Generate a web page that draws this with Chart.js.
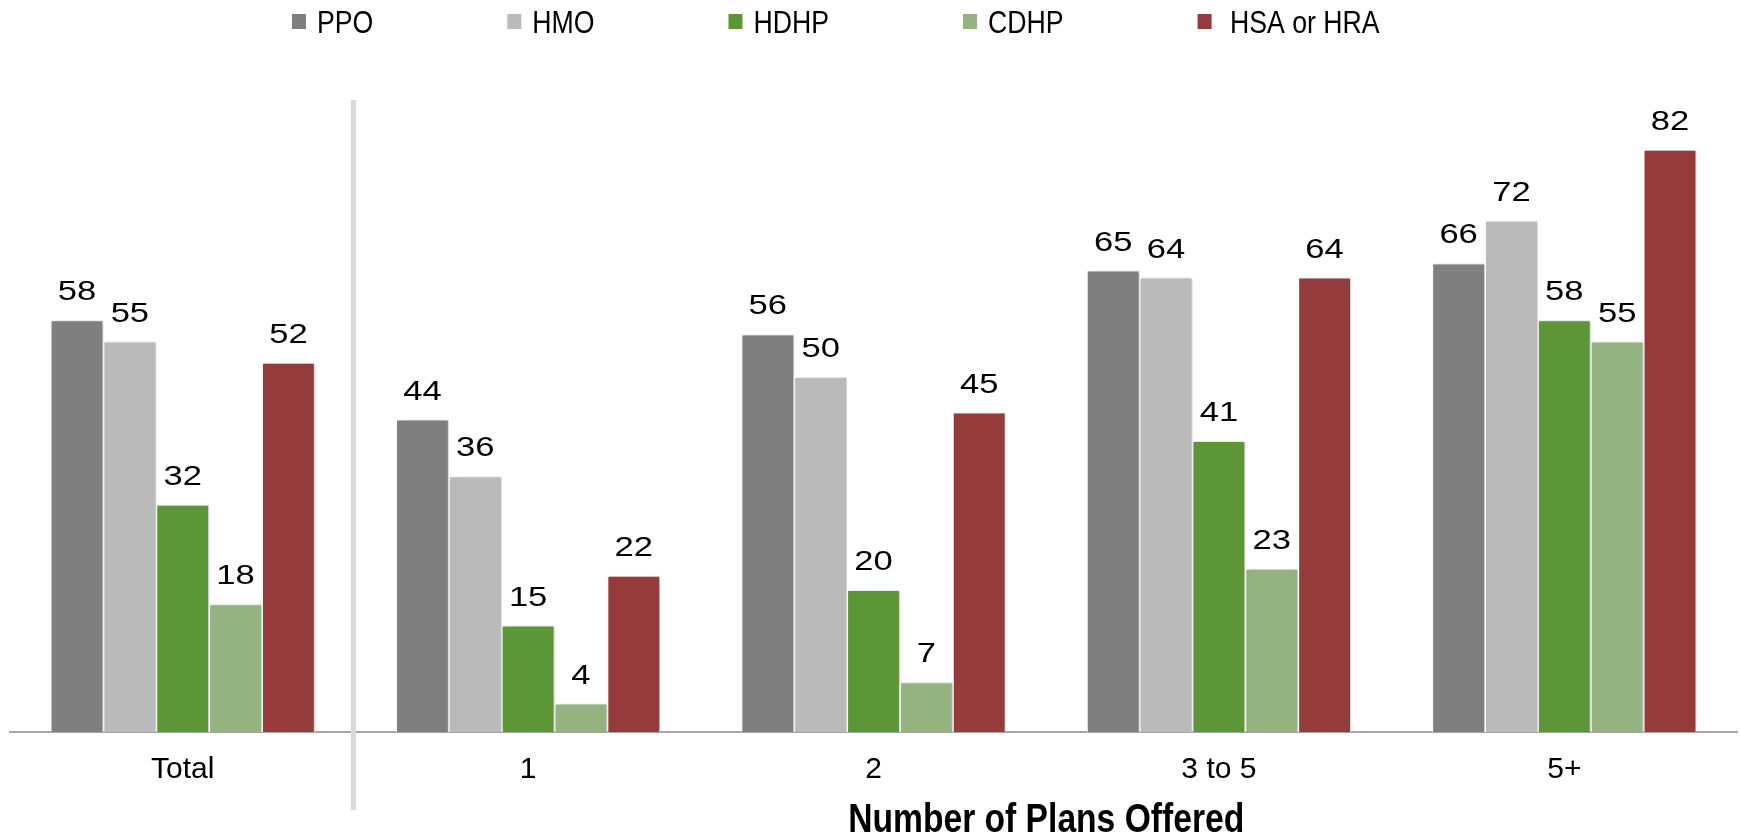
<!DOCTYPE html>
<html>
<head>
<meta charset="utf-8">
<title>Number of Plans Offered</title>
<script src="https://cdn.jsdelivr.net/npm/chart.js@4.4.1/dist/chart.umd.min.js"></script>
<style>
    html, body { margin: 0; padding: 0; background: #fff; }
    #wrap { width: 1740px; height: 834px; position: relative; }
</style>
</head>
<body>
<div id="wrap"><canvas id="plans-chart"></canvas></div>
<script>
const categories = ['Total', '1', '2', '3 to 5', '5+'];
const seriesNames = ['PPO', 'HMO', 'HDHP', 'CDHP', ' HSA or HRA'];
const ppoValues = [58, 44, 56, 65, 66];
const hmoValues = [55, 36, 50, 64, 72];
const hdhpValues = [32, 15, 20, 41, 58];
const cdhpValues = [18, 4, 7, 23, 55];
const hsaValues = [52, 22, 45, 64, 82];
const seriesColors = ['#7f7f7f', '#bababa', '#5d9637', '#95b381', '#953b3c'];
const axisTitle = 'Number of Plans Offered';

const plainFont = '"Liberation Sans", Arial, sans-serif';
// no narrow face installed, so condensed text is squeezed by hand
const titleScale = 0.82;
const legendScale = 0.86;

// draws text squeezed or stretched horizontally around (x, y)
function drawScaledText(ctx, text, x, y, scaleX) {
    ctx.save();
    ctx.translate(x, y);
    ctx.scale(scaleX, 1);
    ctx.fillText(text, 0, 0);
    ctx.restore();
}

// soft shadow behind the bars
const barShadow = {
    id: 'barShadow',
    beforeDatasetsDraw(chart) {
        const ctx = chart.ctx;
        ctx.save();
        ctx.shadowColor = 'rgba(0, 0, 0, 0.22)';
        ctx.shadowBlur = 4;
        ctx.shadowOffsetX = 2;
    },
    afterDatasetsDraw(chart) {
        chart.ctx.restore();
    },
};

// number above each bar
const valueLabels = {
    id: 'valueLabels',
    afterDatasetsDraw(chart) {
        const ctx = chart.ctx;
        ctx.save();
        ctx.font = `27px ${plainFont}`;
        ctx.fillStyle = '#000';
        ctx.textAlign = 'center';
        ctx.textBaseline = 'alphabetic';
        chart.data.datasets.forEach((dataset, i) => {
            chart.getDatasetMeta(i).data.forEach((bar, j) => {
                drawScaledText(ctx, String(dataset.data[j]), bar.x, bar.y - 20, 1.28);
            });
        });
        ctx.restore();
    },
};

// divider between Total and the plan-count groups, plus the axis title
const dividerAndTitle = {
    id: 'dividerAndTitle',
    afterDraw(chart) {
        const ctx = chart.ctx;
        const x = chart.scales.x;
        const area = chart.chartArea;
        const splitX = (x.getPixelForValue(0) + x.getPixelForValue(1)) / 2 - 2;

        ctx.save();
        ctx.strokeStyle = '#d9d9d9';
        ctx.lineWidth = 5;
        ctx.beginPath();
        ctx.moveTo(splitX, area.top + 7);
        ctx.lineTo(splitX, area.bottom + 78);
        ctx.stroke();

        ctx.font = `bold 41px ${plainFont}`;
        ctx.fillStyle = '#000';
        ctx.textAlign = 'center';
        ctx.textBaseline = 'alphabetic';
        const titleX = (x.getPixelForValue(1) + x.getPixelForValue(categories.length - 1)) / 2;
        drawScaledText(ctx, axisTitle, titleX, 832, titleScale);
        ctx.restore();
    },
};

// legend row along the top
const legendRow = {
    id: 'legendRow',
    afterDraw(chart) {
        const ctx = chart.ctx;
        ctx.save();
        ctx.font = `31px ${plainFont}`;
        ctx.textBaseline = 'alphabetic';
        let cursor = 292;
        chart.data.datasets.forEach((dataset) => {
            ctx.fillStyle = dataset.backgroundColor;
            ctx.fillRect(cursor, 14, 14, 15);
            ctx.fillStyle = '#000';
            drawScaledText(ctx, dataset.label, cursor + 25, 33, legendScale);
            cursor += 25 + ctx.measureText(dataset.label).width * legendScale + 134;
        });
        ctx.restore();
    },
};

const seriesValues = [ppoValues, hmoValues, hdhpValues, cdhpValues, hsaValues];

// eslint-disable-next-line no-new
new Chart(document.getElementById('plans-chart'), {
    type: 'bar',
    data: {
        labels: categories,
        datasets: seriesNames.map((name, i) => ({
            label: name,
            data: seriesValues[i],
            backgroundColor: seriesColors[i],
            borderColor: '#ffffff',
            borderWidth: 1,
            categoryPercentage: 0.765,
            barPercentage: 1.0,
        })),
    },
    options: {
        responsive: true,
        maintainAspectRatio: false,
        animation: false,
        layout: {
            padding: { top: 93, left: 10, right: 3, bottom: 0 },
        },
        plugins: {
            legend: { display: false },
            tooltip: { enabled: false },
        },
        scales: {
            x: {
                grid: { display: false, drawTicks: false },
                border: { display: true, color: '#a6a6a6', width: 2 },
                ticks: {
                    color: '#000',
                    padding: 20,
                    font: { family: plainFont, size: 30 },
                },
                afterFit(scale) {
                    scale.height = 102;
                },
            },
            y: {
                display: false,
                min: 0,
                max: 90,
            },
        },
    },
    plugins: [barShadow, valueLabels, dividerAndTitle, legendRow],
});
</script>
</body>
</html>
